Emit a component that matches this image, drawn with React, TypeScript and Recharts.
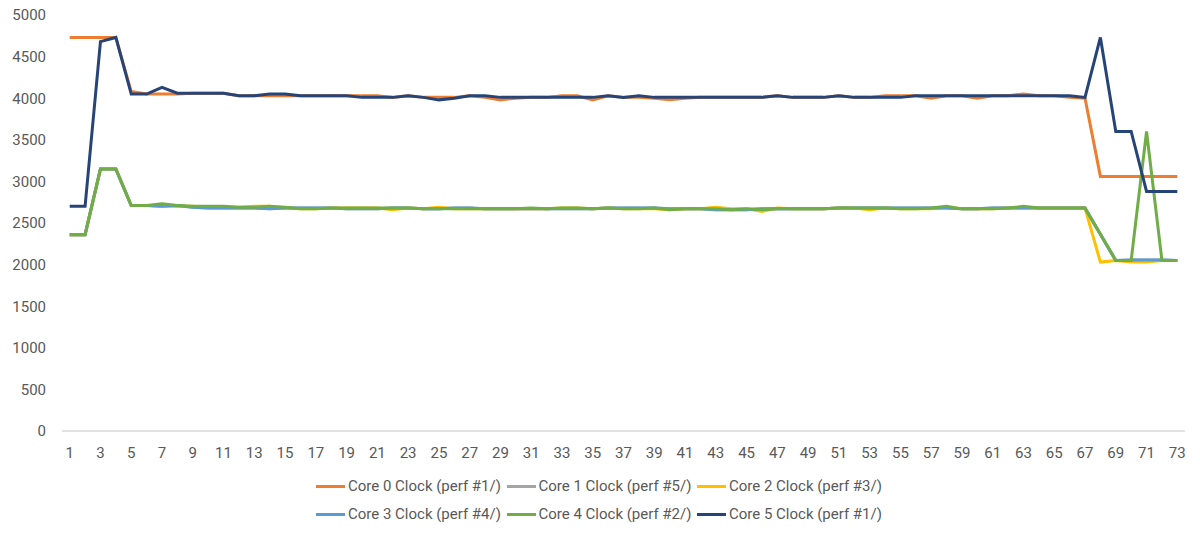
import React from "react";
import { LineChart, Line, XAxis, YAxis } from "recharts";

// sample index 1..73
const samples: number[] = Array.from({ length: 73 }, (_, i) => i + 1);

const xLabels = samples.filter((s) => s % 2 === 1);
const xBoundaries = [0.5, ...samples.map((s) => s + 0.5)];
const yTicks = [0, 500, 1000, 1500, 2000, 2500, 3000, 3500, 4000, 4500, 5000];

const core0 = [
  4730, 4730, 4730, 4730, 4080, 4050, 4050, 4050, 4060, 4060,
  4060, 4030, 4030, 4030, 4030, 4030, 4030, 4030, 4030, 4030,
  4030, 4010, 4030, 4010, 4010, 4010, 4030, 4010, 3980, 4000,
  4010, 4010, 4030, 4030, 3980, 4030, 4010, 4010, 4000, 3980,
  4000, 4010, 4010, 4010, 4010, 4010, 4030, 4010, 4010, 4010,
  4030, 4010, 4010, 4030, 4030, 4030, 4000, 4030, 4030, 4000,
  4030, 4030, 4050, 4030, 4030, 4010, 4000, 3060, 3060, 3060,
  3060, 3060, 3060,
];

const core1 = [
  2360, 2360, 3150, 3150, 2710, 2710, 2700, 2710, 2690, 2680,
  2680, 2680, 2680, 2670, 2680, 2680, 2680, 2680, 2670, 2670,
  2670, 2680, 2680, 2670, 2670, 2680, 2680, 2670, 2670, 2670,
  2670, 2670, 2670, 2670, 2670, 2680, 2680, 2680, 2680, 2670,
  2670, 2670, 2660, 2660, 2660, 2670, 2670, 2670, 2670, 2670,
  2680, 2680, 2680, 2680, 2680, 2680, 2680, 2680, 2670, 2670,
  2680, 2680, 2680, 2680, 2680, 2680, 2680, 2365, 2050, 2055,
  2055, 2055, 2050,
];

const core2 = [
  2360, 2360, 3150, 3150, 2710, 2710, 2710, 2700, 2700, 2690,
  2690, 2690, 2700, 2700, 2680, 2670, 2670, 2680, 2680, 2680,
  2680, 2660, 2680, 2670, 2690, 2670, 2670, 2670, 2670, 2670,
  2670, 2670, 2680, 2680, 2670, 2680, 2670, 2670, 2670, 2660,
  2670, 2670, 2690, 2670, 2670, 2640, 2680, 2670, 2670, 2670,
  2680, 2680, 2660, 2680, 2670, 2670, 2670, 2690, 2670, 2670,
  2670, 2680, 2690, 2680, 2680, 2680, 2680, 2030, 2050, 2030,
  2030, 2050, 2050,
];

const core3 = [
  2360, 2360, 3150, 3150, 2710, 2710, 2700, 2710, 2690, 2680,
  2680, 2680, 2680, 2670, 2680, 2680, 2680, 2680, 2670, 2670,
  2670, 2680, 2680, 2670, 2670, 2680, 2680, 2670, 2670, 2670,
  2670, 2670, 2670, 2670, 2670, 2680, 2680, 2680, 2680, 2670,
  2670, 2670, 2660, 2660, 2660, 2670, 2670, 2670, 2670, 2670,
  2680, 2680, 2680, 2680, 2680, 2680, 2680, 2680, 2670, 2670,
  2680, 2680, 2680, 2680, 2680, 2680, 2680, 2365, 2050, 2055,
  2055, 2055, 2050,
];

const core4 = [
  2360, 2360, 3150, 3150, 2710, 2710, 2730, 2710, 2700, 2700,
  2700, 2690, 2690, 2700, 2690, 2670, 2670, 2680, 2680, 2680,
  2680, 2680, 2680, 2670, 2670, 2670, 2670, 2670, 2670, 2670,
  2680, 2670, 2680, 2680, 2670, 2680, 2670, 2670, 2680, 2660,
  2670, 2670, 2670, 2660, 2670, 2660, 2670, 2670, 2670, 2670,
  2680, 2680, 2680, 2680, 2670, 2670, 2680, 2700, 2670, 2670,
  2670, 2680, 2700, 2680, 2680, 2680, 2680, 2365, 2050, 2050,
  3600, 2050, 2050,
];

const core5 = [
  2700, 2700, 4680, 4730, 4050, 4050, 4130, 4060, 4060, 4060,
  4060, 4030, 4030, 4050, 4050, 4030, 4030, 4030, 4030, 4010,
  4010, 4010, 4030, 4010, 3980, 4000, 4030, 4030, 4010, 4010,
  4010, 4010, 4010, 4010, 4010, 4030, 4010, 4030, 4010, 4010,
  4010, 4010, 4010, 4010, 4010, 4010, 4030, 4010, 4010, 4010,
  4030, 4010, 4010, 4010, 4010, 4030, 4030, 4030, 4030, 4030,
  4030, 4030, 4030, 4030, 4030, 4030, 4010, 4730, 3600, 3600,
  2880, 2880, 2880,
];

const series = [
  { key: "core0", name: "Core 0 Clock (perf #1/)", color: "#ED7D31", values: core0 },
  { key: "core1", name: "Core 1 Clock (perf #5/)", color: "#A5A5A5", values: core1 },
  { key: "core2", name: "Core 2 Clock (perf #3/)", color: "#FFC000", values: core2 },
  { key: "core3", name: "Core 3 Clock (perf #4/)", color: "#5B9BD5", values: core3 },
  { key: "core4", name: "Core 4 Clock (perf #2/)", color: "#70AD47", values: core4 },
  { key: "core5", name: "Core 5 Clock (perf #1/)", color: "#264478", values: core5 },
];

const data = samples.map((x, i) => {
  const row: Record<string, number> = { x };
  series.forEach((s) => {
    row[s.key] = s.values[i];
  });
  return row;
});

const FONT = "Roboto, 'Open Sans', sans-serif";
const TEXT = "#595959";
const AXIS = "#D9D9D9";

const ChartLegend = () => (
  <div
    style={{
      position: "absolute",
      left: 316,
      top: 472,
      width: 580,
      display: "flex",
      flexWrap: "wrap",
      fontFamily: FONT,
      fontSize: 15,
      color: TEXT,
    }}
  >
    {series.map((s) => (
      <div
        key={s.key}
        style={{ width: 190.5, height: 28, display: "flex", alignItems: "center" }}
      >
        <span
          style={{
            display: "inline-block",
            width: 29,
            height: 3,
            background: s.color,
            marginRight: 3,
          }}
        />
        <span style={{ whiteSpace: "nowrap" }}>{s.name}</span>
      </div>
    ))}
  </div>
);

export default function App() {
  // pull the chart over the body margin so it covers the whole window
  return (
    <div style={{ position: "relative", width: 1200, height: 536, margin: -8 }}>
      <LineChart
        width={1200}
        height={536}
        data={data}
        margin={{ top: 15, right: 15, left: 8, bottom: 75 }}
        style={{ fontFamily: FONT }}
      >
        <XAxis
          xAxisId="marks"
          type="number"
          dataKey="x"
          domain={[0.5, 73.5]}
          ticks={xBoundaries}
          interval={0}
          tick={false}
          tickSize={5}
          tickLine={{ stroke: AXIS }}
          axisLine={false}
          height={0}
        />
        <XAxis
          xAxisId="main"
          type="number"
          dataKey="x"
          domain={[0.5, 73.5]}
          ticks={xLabels}
          interval={0}
          tickLine={false}
          tickMargin={10}
          axisLine={{ stroke: AXIS, strokeWidth: 1.5 }}
          tick={{ fill: TEXT, fontSize: 15 }}
          height={30}
        />
        <YAxis
          type="number"
          domain={[0, 5000]}
          ticks={yTicks}
          interval={0}
          axisLine={false}
          tickLine={false}
          tickMargin={10}
          width={54}
          tick={{ fill: TEXT, fontSize: 15 }}
        />
        {series.map((s) => (
          <Line
            key={s.key}
            xAxisId="main"
            type="linear"
            dataKey={s.key}
            name={s.name}
            stroke={s.color}
            strokeWidth={3}
            dot={false}
            isAnimationActive={false}
          />
        ))}
      </LineChart>
      <ChartLegend />
    </div>
  );
}
